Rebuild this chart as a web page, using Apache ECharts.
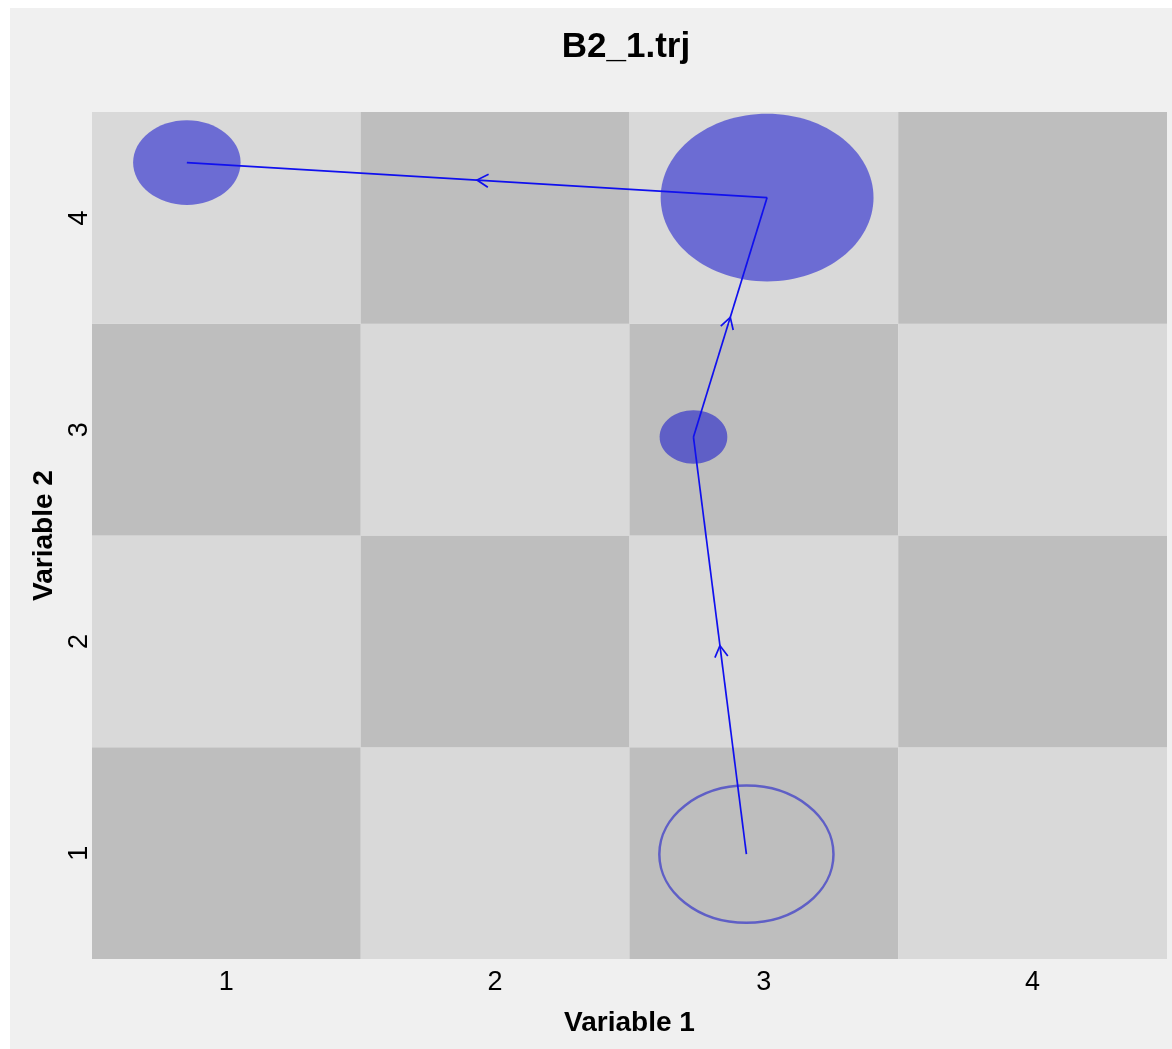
<!DOCTYPE html>
<html>
<head>
<meta charset="utf-8">
<script src="https://cdn.jsdelivr.net/npm/echarts@6/dist/echarts.min.js"></script>
<style>
  html, body { margin: 0; padding: 0; background: #ffffff; }
  #bgpanel { position: absolute; left: 10px; top: 8px; width: 1162px; height: 1041px; background: #f0f0f0; }
  #chart { position: absolute; left: 0; top: 0; width: 1172px; height: 1049px; }
</style>
</head>
<body>
<div id="bgpanel"></div>
<div id="chart"></div>
<script>
// ---- data ----
const chartTitle = 'B2_1.trj';
const xAxisTitle = 'Variable 1';
const yAxisTitle = 'Variable 2';
const cellX = [1, 2, 3, 4];
const cellY = [1, 2, 3, 4];
const tickValues = [1, 2, 3, 4];
const tickLabels = ['1', '2', '3', '4'];
// trajectory points (in order)
const trajX = [2.935, 2.738, 3.012, 0.853];
const trajY = [0.995, 2.965, 4.096, 4.261];
const trajRadius = [0.324, 0.126, 0.396, 0.200];
const trajFilled = [false, true, true, true];

// ---- build ----
const cells = [];
cellX.forEach(function (cx) {
  cellY.forEach(function (cy) { cells.push([cx, cy]); });
});
const points = trajX.map(function (x, i) { return [x, trajY[i], trajRadius[i], trajFilled[i] ? 1 : 0]; });
const segments = [];
for (let i = 0; i < trajX.length - 1; i++) {
  segments.push([trajX[i], trajY[i], trajX[i + 1], trajY[i + 1]]);
}

const DARK = '#bebebe', LIGHT = '#d9d9d9';
const FONT = '"Liberation Sans", Arial, sans-serif';

const chart = echarts.init(document.getElementById('chart'), null, { renderer: 'canvas' });
chart.setOption({
  backgroundColor: 'transparent',
  animation: false,
  title: {
    text: chartTitle,
    left: 621,
    textAlign: 'center',
    top: 25,
    textStyle: { fontFamily: FONT, fontSize: 35, fontWeight: 'bold', color: '#000' }
  },
  grid: { left: 92, right: 5, top: 112, bottom: 90 },
  xAxis: {
    type: 'value', min: 0.5, max: 4.5,
    name: xAxisTitle, nameLocation: 'middle', nameGap: 50,
    nameTextStyle: { fontFamily: FONT, fontSize: 28, fontWeight: 'bold', color: '#000' },
    axisLine: { show: false }, axisTick: { show: false }, splitLine: { show: false },
    axisLabel: {
      customValues: tickValues,
      formatter: function (v) { const i = tickValues.indexOf(v); return i >= 0 ? tickLabels[i] : ''; },
      fontFamily: FONT, fontSize: 27, color: '#000', margin: 10
    }
  },
  yAxis: {
    type: 'value', min: 0.5, max: 4.5,
    name: yAxisTitle, nameLocation: 'middle', nameGap: 28, nameRotate: 90,
    nameTextStyle: { fontFamily: FONT, fontSize: 28, fontWeight: 'bold', color: '#000' },
    axisLine: { show: false }, axisTick: { show: false }, splitLine: { show: false },
    axisLabel: {
      customValues: tickValues, rotate: 90,
      formatter: function (v) { const i = tickValues.indexOf(v); return i >= 0 ? tickLabels[i] : ''; },
      fontFamily: FONT, fontSize: 27, color: '#000', margin: -1
    }
  },
  series: [
    {
      type: 'custom', name: 'cells', silent: true, z: 1,
      data: cells,
      renderItem: function (params, api) {
        const cx = api.value(0), cy = api.value(1);
        const p0 = api.coord([cx - 0.5, cy + 0.5]);
        const p1 = api.coord([cx + 0.5, cy - 0.5]);
        return {
          type: 'rect',
          shape: { x: p0[0], y: p0[1], width: p1[0] - p0[0], height: p1[1] - p0[1] },
          style: { fill: ((cx + cy) % 2 === 0) ? DARK : LIGHT }
        };
      }
    },
    {
      type: 'custom', name: 'circles', silent: true, z: 2,
      data: points,
      renderItem: function (params, api) {
        const c = api.coord([api.value(0), api.value(1)]);
        const r = api.value(2);
        const s = api.size([r, r]);
        const filled = api.value(3) === 1;
        return {
          type: 'ellipse',
          shape: { cx: c[0], cy: c[1], rx: s[0], ry: s[1] },
          style: filled
            ? { fill: 'rgba(0,0,205,0.5)', stroke: null }
            : { fill: null, stroke: 'rgba(0,0,205,0.5)', lineWidth: 2.5 }
        };
      }
    },
    {
      type: 'custom', name: 'path', silent: true, z: 3,
      data: segments,
      renderItem: function (params, api) {
        const a = api.coord([api.value(0), api.value(1)]);
        const b = api.coord([api.value(2), api.value(3)]);
        const mx = (a[0] + b[0]) / 2, my = (a[1] + b[1]) / 2;
        const ang = Math.atan2(b[1] - a[1], b[0] - a[0]);
        const L = 13, h = Math.PI / 6;
        const l1 = [mx - L * Math.cos(ang - h), my - L * Math.sin(ang - h)];
        const l2 = [mx - L * Math.cos(ang + h), my - L * Math.sin(ang + h)];
        const st = { stroke: '#1010ee', lineWidth: 1.7, fill: null };
        return {
          type: 'group',
          children: [
            { type: 'line', shape: { x1: a[0], y1: a[1], x2: b[0], y2: b[1] }, style: st },
            { type: 'polyline', shape: { points: [l1, [mx, my], l2] }, style: st }
          ]
        };
      }
    }
  ]
});
</script>
</body>
</html>
